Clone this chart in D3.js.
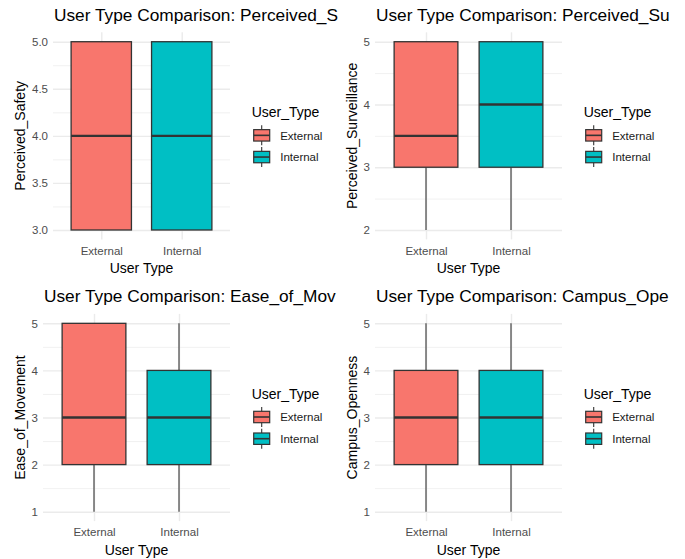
<!DOCTYPE html>
<html>
<head>
<meta charset="utf-8">
<script src="https://cdn.jsdelivr.net/npm/d3@7"></script>
<style>
    body { margin: 0; background: #fff; }
    svg { font-family: "Liberation Sans", Arial, sans-serif; }
    .grid line { stroke: #EBEBEB; }
    .grid .domain { display: none; }
    .axis .domain { display: none; }
    .axis line { display: none; }
    .axis text { fill: #4D4D4D; font-size: 11.5px; font-family: "Liberation Sans", Arial, sans-serif; }
</style>
</head>
<body>
<svg id="chart" width="685" height="559"></svg>
<script>

/*    ========    DATA    =========    */

var userTypes = ["External", "Internal"];
var fillColors = ["#F8766D", "#00BFC4"];

var metrics = ["Perceived_Safety", "Perceived_Surveillance", "Ease_of_Movement", "Campus_Openness"];
// titles are cut off in the original picture
var titles = [
    "User Type Comparison: Perceived_S",
    "User Type Comparison: Perceived_Su",
    "User Type Comparison: Ease_of_Mov",
    "User Type Comparison: Campus_Ope"
];

// [lower whisker, Q1, median, Q3, upper whisker] per user type
var safetyStats = [[3, 3, 4, 5, 5], [3, 3, 4, 5, 5]];
var surveillanceStats = [[2, 3, 3.5, 5, 5], [2, 3, 4, 5, 5]];
var movementStats = [[1, 2, 3, 5, 5], [1, 2, 3, 4, 5]];
var opennessStats = [[1, 2, 3, 4, 5], [1, 2, 3, 4, 5]];

var safetyTicks = [3, 3.5, 4, 4.5, 5];
var surveillanceTicks = [2, 3, 4, 5];
var movementTicks = [1, 2, 3, 4, 5];
var opennessTicks = [1, 2, 3, 4, 5];

/*    ========    LAYOUT    =========    */

var svg = d3.select("#chart");

var panels = [
    { stats: safetyStats, ticks: safetyTicks, fmt: d3.format(".1f"), left: 53, right: 230, top: 32.3, bottom: 239.4, titleX: 20 },
    { stats: surveillanceStats, ticks: surveillanceTicks, fmt: d3.format("d"), left: 375, right: 562, top: 32.3, bottom: 239.4, titleX: 351.7 },
    { stats: movementStats, ticks: movementTicks, fmt: d3.format("d"), left: 43, right: 230, top: 313.9, bottom: 521.1, titleX: 20 },
    { stats: opennessStats, ticks: opennessTicks, fmt: d3.format("d"), left: 375, right: 562, top: 313.9, bottom: 521.1, titleX: 351.7 }
];

/*    ========    FUNCTIONS    =========    */

function drawPanel(p, i) {
    var g = svg.append("g").attr("class", "panel");

    var lo = d3.min(p.ticks), hi = d3.max(p.ticks);
    var pad = (hi - lo) * 0.05;

    var x = d3.scaleLinear().domain([0.4, 2.6]).range([p.left, p.right]);
    var y = d3.scaleLinear().domain([lo - pad, hi + pad]).range([p.bottom, p.top]);
    var step = x(2) - x(1);
    var boxW = step * 0.75;

    // minor y grid
    var minor = d3.range(p.ticks.length - 1).map(function(k) {
        return (p.ticks[k] + p.ticks[k + 1]) / 2;
    });
    g.append("g")
        .attr("class", "grid")
        .attr("transform", "translate(" + p.left + ",0)")
        .call(d3.axisLeft(y).tickValues(minor).tickSize(-(p.right - p.left)).tickFormat(""))
        .selectAll("line").attr("stroke-width", 0.7);

    // major y grid
    g.append("g")
        .attr("class", "grid")
        .attr("transform", "translate(" + p.left + ",0)")
        .call(d3.axisLeft(y).tickValues(p.ticks).tickSize(-(p.right - p.left)).tickFormat(""))
        .selectAll("line").attr("stroke-width", 1.4);

    // major x grid
    g.append("g")
        .attr("class", "grid")
        .attr("transform", "translate(0," + p.bottom + ")")
        .call(d3.axisBottom(x).tickValues([1, 2]).tickSize(-(p.bottom - p.top)).tickFormat(""))
        .selectAll("line").attr("stroke-width", 1.4);

    // boxes
    var boxes = g.selectAll(".box")
        .data(p.stats)
        .enter().append("g")
        .attr("class", "box");

    boxes.append("line")
        .attr("x1", function(d, k) { return x(k + 1); })
        .attr("x2", function(d, k) { return x(k + 1); })
        .attr("y1", function(d) { return y(d[4]); })
        .attr("y2", function(d) { return y(d[3]); })
        .attr("stroke", "#333333")
        .attr("stroke-width", 1.1);

    boxes.append("line")
        .attr("x1", function(d, k) { return x(k + 1); })
        .attr("x2", function(d, k) { return x(k + 1); })
        .attr("y1", function(d) { return y(d[1]); })
        .attr("y2", function(d) { return y(d[0]); })
        .attr("stroke", "#333333")
        .attr("stroke-width", 1.1);

    boxes.append("rect")
        .attr("x", function(d, k) { return x(k + 1) - boxW / 2; })
        .attr("width", boxW)
        .attr("y", function(d) { return y(d[3]); })
        .attr("height", function(d) { return y(d[1]) - y(d[3]); })
        .attr("fill", function(d, k) { return fillColors[k]; })
        .attr("stroke", "#333333")
        .attr("stroke-width", 1.3);

    boxes.append("line")
        .attr("x1", function(d, k) { return x(k + 1) - boxW / 2; })
        .attr("x2", function(d, k) { return x(k + 1) + boxW / 2; })
        .attr("y1", function(d) { return y(d[2]); })
        .attr("y2", function(d) { return y(d[2]); })
        .attr("stroke", "#333333")
        .attr("stroke-width", 2.4);

    // axes
    g.append("g")
        .attr("class", "axis")
        .attr("transform", "translate(" + (p.left - 2) + ",0)")
        .call(d3.axisLeft(y).tickValues(p.ticks).tickFormat(p.fmt).tickSize(0));

    g.append("g")
        .attr("class", "axis")
        .attr("transform", "translate(0," + (p.bottom + 4) + ")")
        .call(d3.axisBottom(x).tickValues([1, 2]).tickFormat(function(v) { return userTypes[v - 1]; }).tickSize(0));

    // axis titles
    g.append("text")
        .attr("x", (p.left + p.right) / 2)
        .attr("y", p.bottom + 34)
        .attr("text-anchor", "middle")
        .style("font-size", "14px")
        .attr("fill", "#000")
        .text("User Type");

    g.append("text")
        .attr("transform", "translate(" + (p.titleX + 5) + "," + ((p.top + p.bottom) / 2) + ") rotate(-90)")
        .attr("text-anchor", "middle")
        .style("font-size", "14px")
        .attr("fill", "#000")
        .text(metrics[i]);

    // plot title
    g.append("text")
        .attr("x", p.left + 1)
        .attr("y", p.top - 11.6)
        .style("font-size", "17.3px")
        .attr("fill", "#000")
        .text(titles[i]);

    // == Legend == //
    var cy = (p.top + p.bottom) / 2;
    var lx = p.right + 21.7;
    var legend = g.append("g").attr("class", "legend");

    legend.append("text")
        .attr("x", lx)
        .attr("y", cy - 19)
        .style("font-size", "14px")
        .attr("fill", "#000")
        .text("User_Type");

    var keys = legend.selectAll(".key")
        .data(userTypes)
        .enter().append("g")
        .attr("class", "key")
        .attr("transform", function(d, k) { return "translate(" + (lx + 2) + "," + (cy - 0.5 + k * 21.7) + ")"; });

    keys.append("line")
        .attr("x1", 8).attr("x2", 8)
        .attr("y1", -10).attr("y2", 10)
        .attr("stroke", "#333333")
        .attr("stroke-width", 1.1);

    keys.append("rect")
        .attr("x", 0).attr("y", -5.7)
        .attr("width", 16).attr("height", 11.4)
        .attr("fill", function(d, k) { return fillColors[k]; })
        .attr("stroke", "#333333")
        .attr("stroke-width", 1.2);

    keys.append("line")
        .attr("x1", 0).attr("x2", 16)
        .attr("y1", 0).attr("y2", 0)
        .attr("stroke", "#333333")
        .attr("stroke-width", 1.6);

    keys.append("text")
        .attr("x", 26.5)
        .attr("y", 4.2)
        .style("font-size", "11.5px")
        .attr("fill", "#1A1A1A")
        .text(function(d) { return d; });
}

/*    ========    RUN    =========    */

panels.forEach(drawPanel);

</script>
</body>
</html>
